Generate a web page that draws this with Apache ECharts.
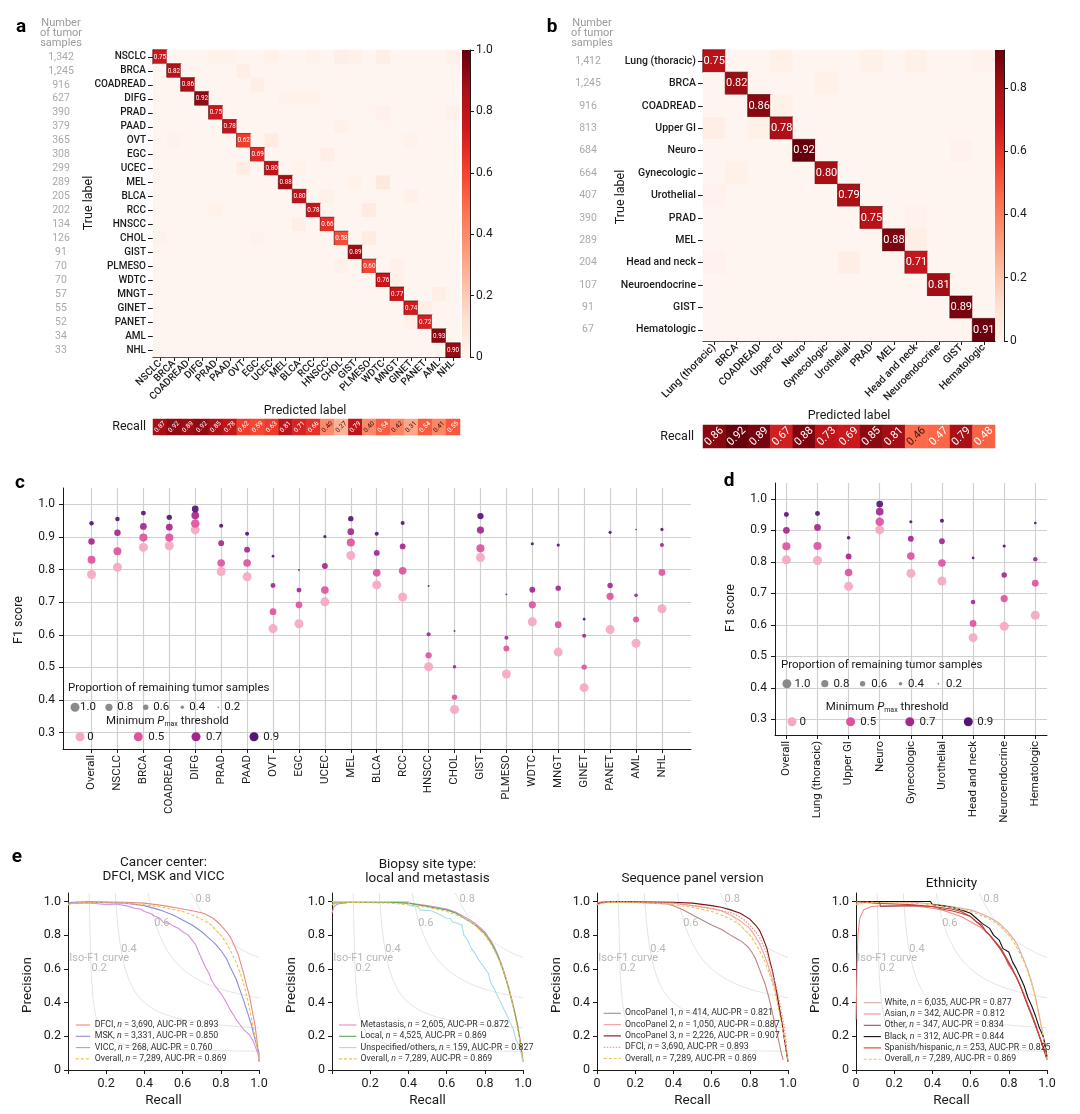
<!DOCTYPE html>
<html>
<head>
<meta charset="utf-8">
<script src="https://cdn.jsdelivr.net/npm/echarts@6.0.0/dist/echarts.min.js"></script>
<style>
html,body{margin:0;padding:0;background:#ffffff;}
#chart{width:1080px;height:1114px;}
</style>
</head>
<body>
<div id="chart"></div>
<script>
// ================= DATA =================
// ---- Panel a ----
const aClasses = ['NSCLC','BRCA','COADREAD','DIFG','PRAD','PAAD','OVT','EGC','UCEC','MEL','BLCA','RCC','HNSCC','CHOL','GIST','PLMESO','WDTC','MNGT','GINET','PANET','AML','NHL'];
const aCounts = ['1,342','1,245','916','627','390','379','365','308','299','289','205','202','134','126','91','70','70','57','55','52','34','33'];
const aDiagonal = [0.75,0.82,0.86,0.92,0.75,0.78,0.62,0.69,0.80,0.88,0.80,0.78,0.66,0.58,0.89,0.60,0.76,0.77,0.74,0.72,0.93,0.90];
// [row, col, value]
const aOffDiagonal = [
 [0,4,0.02],[0,5,0.02],[0,8,0.02],[0,11,0.02],[0,13,0.04],[0,14,0.03],[0,16,0.04],[0,21,0.03],
 [1,6,0.04],[2,7,0.04],[3,9,0.02],[3,10,0.02],[3,11,0.02],[4,16,0.03],[4,21,0.03],[5,13,0.03],
 [6,1,0.02],[6,8,0.06],[6,18,0.02],[7,12,0.04],[8,6,0.05],[8,10,0.02],[9,16,0.08],[9,14,0.02],
 [10,12,0.03],[10,18,0.03],[11,15,0.06],[12,10,0.04],[13,15,0.06],[13,0,0.02],[15,13,0.03],[15,17,0.03],
 [16,17,0.03],[17,20,0.04],[18,19,0.04],[19,18,0.03],[11,4,0.02],[13,7,0.02]
];
const aRecall = [0.87,0.92,0.89,0.92,0.85,0.78,0.62,0.59,0.63,0.81,0.71,0.66,0.40,0.27,0.79,0.40,0.54,0.42,0.31,0.54,0.41,0.55];
const aColorTicks = [0,0.2,0.4,0.6,0.8,1.0];

// ---- Panel b ----
const bClasses = ['Lung (thoracic)','BRCA','COADREAD','Upper GI','Neuro','Gynecologic','Urothelial','PRAD','MEL','Head and neck','Neuroendocrine','GIST','Hematologic'];
const bCounts = ['1,412','1,245','916','813','684','664','407','390','289','204','107','91','67'];
const bDiagonal = [0.75,0.82,0.86,0.78,0.92,0.80,0.79,0.75,0.88,0.71,0.81,0.89,0.91];
const bOffDiagonal = [[0,3,0.03],[0,7,0.03],[0,9,0.03],[0,12,0.02],[1,5,0.03],[2,3,0.03],[3,0,0.04],[3,2,0.03],[4,11,0.02],[5,1,0.03],[8,9,0.04],[9,6,0.04],[9,0,0.02],[6,0,0.02],[7,9,0.02]];
const bRecall = [0.86,0.92,0.89,0.67,0.88,0.73,0.69,0.85,0.81,0.46,0.47,0.79,0.48];
const bColorMax = 0.92;
const bColorTicks = [0,0.2,0.4,0.6,0.8];

// ---- Panel c ----
const cCategories = ['Overall','NSCLC','BRCA','COADREAD','DIFG','PRAD','PAAD','OVT','EGC','UCEC','MEL','BLCA','RCC','HNSCC','CHOL','GIST','PLMESO','WDTC','MNGT','GINET','PANET','AML','NHL'];
const cF1_t0  = [0.785,0.807,0.868,0.873,0.922,0.794,0.778,0.619,0.634,0.701,0.843,0.753,0.716,0.502,0.371,0.837,0.480,0.640,0.547,0.438,0.616,0.574,0.680];
const cF1_t05 = [0.830,0.856,0.898,0.898,0.941,0.820,0.820,0.671,0.692,0.737,0.883,0.790,0.796,0.537,0.409,0.865,0.558,0.692,0.631,0.501,0.718,0.647,0.791];
const cF1_t07 = [0.886,0.913,0.932,0.930,0.966,0.881,0.861,0.751,0.737,0.811,0.916,0.851,0.871,0.602,0.502,0.921,0.591,0.738,0.743,0.597,0.751,0.721,0.875];
const cF1_t09 = [0.942,0.955,0.973,0.960,0.986,0.934,0.910,0.841,0.799,0.901,0.956,0.910,0.943,0.750,0.612,0.964,0.724,0.879,0.875,0.648,0.914,0.923,0.923];
const cProp_t0  = [1,1,1,1,1,1,1,1,1,1,1,1,1,1,1,1,1,1,1,1,1,1,1];
const cProp_t05 = [0.88,0.88,0.90,0.90,0.95,0.85,0.85,0.75,0.75,0.85,0.90,0.85,0.85,0.70,0.60,0.90,0.65,0.80,0.75,0.60,0.80,0.65,0.75];
const cProp_t07 = [0.72,0.72,0.75,0.75,0.85,0.65,0.65,0.55,0.55,0.65,0.75,0.65,0.65,0.45,0.40,0.80,0.45,0.65,0.60,0.45,0.60,0.40,0.45];
const cProp_t09 = [0.50,0.50,0.55,0.60,0.75,0.45,0.45,0.30,0.20,0.35,0.60,0.45,0.45,0.20,0.20,0.70,0.20,0.35,0.35,0.30,0.35,0.15,0.35];

// ---- Panel d ----
const dCategories = ['Overall','Lung (thoracic)','Upper GI','Neuro','Gynecologic','Urothelial','Head and neck','Neuroendocrine','Hematologic'];
const dF1_t0  = [0.806,0.804,0.722,0.901,0.763,0.739,0.559,0.595,0.630];
const dF1_t05 = [0.849,0.850,0.766,0.927,0.818,0.796,0.604,0.683,0.732];
const dF1_t07 = [0.900,0.909,0.817,0.959,0.873,0.865,0.672,0.758,0.808];
const dF1_t09 = [0.950,0.953,0.876,0.983,0.927,0.930,0.812,0.850,0.923];
const dProp_t0  = [1,1,1,1,1,1,1,1,1];
const dProp_t05 = [0.90,0.90,0.85,0.95,0.85,0.85,0.75,0.80,0.75];
const dProp_t07 = [0.75,0.75,0.65,0.85,0.65,0.65,0.50,0.60,0.50];
const dProp_t09 = [0.55,0.55,0.40,0.75,0.35,0.45,0.30,0.35,0.30];

const f1YTicks = [0.3,0.4,0.5,0.6,0.7,0.8,0.9,1.0];
const sizeLegendProps = [1.0,0.8,0.6,0.4,0.2];
const thresholdLabels = ['0','0.5','0.7','0.9'];

// ---- Panel e (recall, precision) ----
const prOverall = [[0,0.98],[0.05,0.995],[0.3,0.99],[0.4,0.98],[0.5,0.965],[0.6,0.94],[0.65,0.92],[0.7,0.895],[0.75,0.86],[0.8,0.8],[0.83,0.75],[0.85,0.71],[0.88,0.64],[0.9,0.58],[0.92,0.51],[0.94,0.42],[0.96,0.31],[0.98,0.2],[0.99,0.13],[1.0,0.06]];
const prDFCI = [[0,0.98],[0.02,0.995],[0.1,1.0],[0.3,0.995],[0.4,0.99],[0.5,0.975],[0.58,0.96],[0.65,0.945],[0.71,0.93],[0.76,0.9],[0.8,0.86],[0.83,0.82],[0.85,0.79],[0.87,0.74],[0.89,0.69],[0.905,0.63],[0.92,0.57],[0.935,0.5],[0.95,0.44],[0.965,0.35],[0.98,0.26],[0.99,0.17],[0.996,0.1],[1.0,0.05]];
const prMSK = [[0,0.99],[0.1,0.995],[0.3,0.99],[0.4,0.975],[0.48,0.95],[0.55,0.92],[0.6,0.89],[0.65,0.86],[0.7,0.82],[0.73,0.79],[0.77,0.75],[0.8,0.71],[0.83,0.66],[0.85,0.61],[0.88,0.54],[0.9,0.475],[0.92,0.41],[0.94,0.34],[0.96,0.27],[0.97,0.22],[0.985,0.16],[1.0,0.1],[1.0,0.05]];
const prVICC = [[0.02,0.99],[0.12,0.99],[0.17,0.985],[0.2,0.98],[0.25,0.985],[0.3,0.975],[0.35,0.96],[0.38,0.955],[0.4,0.94],[0.43,0.93],[0.45,0.915],[0.48,0.9],[0.5,0.875],[0.53,0.87],[0.55,0.855],[0.58,0.84],[0.6,0.82],[0.63,0.8],[0.65,0.77],[0.67,0.74],[0.68,0.71],[0.7,0.66],[0.72,0.61],[0.74,0.57],[0.75,0.535],[0.77,0.5],[0.8,0.455],[0.82,0.42],[0.85,0.355],[0.87,0.32],[0.88,0.3],[0.9,0.27],[0.92,0.24],[0.95,0.21],[0.97,0.17],[0.98,0.14],[1.0,0.08]];
const prMetastasis = [[0,0.93],[0.01,0.97],[0.03,0.985],[0.1,0.995],[0.3,0.995],[0.4,0.99],[0.5,0.975],[0.6,0.955],[0.65,0.935],[0.7,0.905],[0.75,0.87],[0.8,0.82],[0.83,0.77],[0.85,0.73],[0.87,0.68],[0.89,0.62],[0.91,0.55],[0.93,0.47],[0.95,0.38],[0.97,0.28],[0.985,0.18],[1.0,0.05]];
const prLocal = [[0,0.99],[0.1,0.995],[0.3,0.995],[0.4,0.99],[0.5,0.97],[0.6,0.95],[0.65,0.93],[0.7,0.895],[0.75,0.86],[0.8,0.81],[0.83,0.76],[0.85,0.72],[0.87,0.67],[0.89,0.61],[0.91,0.54],[0.93,0.46],[0.95,0.37],[0.97,0.27],[0.985,0.17],[1.0,0.05]];
const prUnspecified = [[0,1.0],[0.4,1.0],[0.405,0.975],[0.45,0.97],[0.46,0.95],[0.52,0.945],[0.55,0.93],[0.6,0.9],[0.62,0.9],[0.63,0.88],[0.68,0.86],[0.69,0.8],[0.71,0.77],[0.73,0.72],[0.75,0.69],[0.77,0.65],[0.79,0.62],[0.82,0.57],[0.83,0.52],[0.85,0.48],[0.86,0.455],[0.88,0.41],[0.9,0.36],[0.91,0.34],[0.93,0.29],[0.95,0.24],[0.96,0.19],[0.98,0.14],[0.99,0.1],[1.0,0.05]];
const prOncoPanel1 = [[0,0.99],[0.1,1.0],[0.3,0.99],[0.37,0.985],[0.4,0.975],[0.45,0.95],[0.5,0.92],[0.55,0.89],[0.6,0.86],[0.65,0.835],[0.7,0.8],[0.73,0.78],[0.76,0.76],[0.79,0.73],[0.81,0.7],[0.83,0.66],[0.85,0.6],[0.86,0.57],[0.88,0.51],[0.89,0.47],[0.9,0.43],[0.91,0.38],[0.92,0.33],[0.935,0.26],[0.95,0.18],[0.965,0.1],[0.975,0.06]];
const prOncoPanel2 = [[0,0.99],[0.1,1.0],[0.4,0.99],[0.5,0.975],[0.6,0.96],[0.65,0.945],[0.7,0.92],[0.75,0.885],[0.8,0.84],[0.83,0.79],[0.85,0.75],[0.87,0.7],[0.89,0.64],[0.91,0.57],[0.93,0.49],[0.95,0.4],[0.965,0.3],[0.98,0.2],[0.99,0.12],[1.0,0.05]];
const prOncoPanel3 = [[0,0.98],[0.02,0.995],[0.1,1.0],[0.4,0.995],[0.5,0.99],[0.6,0.975],[0.65,0.965],[0.7,0.95],[0.75,0.93],[0.8,0.895],[0.83,0.86],[0.85,0.83],[0.87,0.78],[0.89,0.72],[0.9,0.67],[0.92,0.58],[0.94,0.47],[0.95,0.4],[0.97,0.27],[0.98,0.19],[0.99,0.12],[1.0,0.05]];
const prWhite = [[0,0.99],[0.1,1.0],[0.3,0.995],[0.4,0.985],[0.5,0.97],[0.6,0.95],[0.65,0.93],[0.7,0.905],[0.75,0.87],[0.8,0.815],[0.83,0.77],[0.85,0.73],[0.88,0.65],[0.9,0.59],[0.92,0.52],[0.94,0.43],[0.96,0.32],[0.98,0.2],[0.99,0.13],[1.0,0.06]];
const prAsian = [[0,0.3],[0.005,0.6],[0.01,0.8],[0.02,0.9],[0.04,0.95],[0.08,0.97],[0.15,0.975],[0.3,0.975],[0.4,0.96],[0.45,0.95],[0.5,0.93],[0.55,0.91],[0.6,0.88],[0.63,0.86],[0.66,0.84],[0.7,0.8],[0.73,0.76],[0.76,0.71],[0.78,0.67],[0.8,0.62],[0.82,0.59],[0.84,0.55],[0.86,0.5],[0.88,0.45],[0.9,0.39],[0.92,0.33],[0.94,0.27],[0.96,0.2],[0.98,0.14],[1.0,0.06]];
const prOther = [[0,1.0],[0.12,1.0],[0.13,0.97],[0.3,0.975],[0.4,0.97],[0.5,0.955],[0.55,0.94],[0.6,0.91],[0.65,0.86],[0.7,0.8],[0.73,0.76],[0.76,0.72],[0.79,0.66],[0.82,0.6],[0.84,0.55],[0.86,0.5],[0.88,0.44],[0.9,0.38],[0.92,0.32],[0.94,0.26],[0.96,0.2],[0.98,0.14],[1.0,0.07]];
const prBlack = [[0,1.0],[0.39,1.0],[0.4,0.98],[0.45,0.975],[0.5,0.965],[0.55,0.95],[0.6,0.93],[0.63,0.9],[0.66,0.87],[0.7,0.84],[0.72,0.8],[0.75,0.77],[0.77,0.72],[0.8,0.7],[0.82,0.64],[0.84,0.6],[0.86,0.55],[0.88,0.5],[0.9,0.43],[0.92,0.38],[0.94,0.32],[0.96,0.25],[0.98,0.2],[0.99,0.15],[1.0,0.08]];
const prHispanic = [[0,1.0],[0.1,0.99],[0.3,0.98],[0.4,0.97],[0.45,0.955],[0.5,0.945],[0.55,0.93],[0.6,0.91],[0.63,0.88],[0.66,0.86],[0.68,0.82],[0.7,0.8],[0.72,0.77],[0.74,0.74],[0.76,0.71],[0.78,0.67],[0.8,0.63],[0.82,0.59],[0.84,0.55],[0.86,0.5],[0.88,0.44],[0.9,0.38],[0.92,0.33],[0.94,0.27],[0.96,0.2],[0.98,0.13],[1.0,0.06]];

const eTitles = ['Cancer center:\nDFCI, MSK and VICC','Biopsy site type:\nlocal and metastasis','Sequence panel version','Ethnicity'];
const eLegendNames = [
  ['DFCI','MSK','VICC','Overall'],
  ['Metastasis','Local','Unspecified/others','Overall'],
  ['OncoPanel 1','OncoPanel 2','OncoPanel 3','DFCI','Overall'],
  ['White','Asian','Other','Black','Spanish/hispanic','Overall']
];
const eLegendN = [
  ['3,690','3,331','268','7,289'],
  ['2,605','4,525','159','7,289'],
  ['414','1,050','2,226','3,690','7,289'],
  ['6,035','342','347','312','253','7,289']
];
const eLegendAUC = [
  ['0.893','0.850','0.760','0.869'],
  ['0.872','0.869','0.827','0.869'],
  ['0.821','0.887','0.907','0.893','0.869'],
  ['0.877','0.812','0.834','0.844','0.825','0.869']
];
const eCurves = [
  [prDFCI, prMSK, prVICC, prOverall],
  [prMetastasis, prLocal, prUnspecified, prOverall],
  [prOncoPanel1, prOncoPanel2, prOncoPanel3, prDFCI, prOverall],
  [prWhite, prAsian, prOther, prBlack, prHispanic, prOverall]
];
const eTicks = [0,0.2,0.4,0.6,0.8,1.0];
const isoF1Levels = [0.2,0.4,0.6,0.8];
const isoLabels = [['Iso-F1 curve',0.163,0.664],['0.2',0.163,0.606],['0.4',0.319,0.717],['0.6',0.491,0.872],['0.8',0.708,1.01]];

// ================= STYLE =================
const FONT = 'Roboto, "Noto Sans", "DejaVu Sans", sans-serif';
const INK = '#1a1a1a';
const REDS = ['#fff5f0','#fee0d2','#fcbba1','#fc9272','#fb6a4a','#ef3b2c','#cb181d','#a50f15','#67000d'];
const thrColors = ['#f5a7c4','#e0529e','#a6268f','#551672'];
const eStyles = [
  [{c:'#e98a80'},{c:'#8e8cd8'},{c:'#d68ed9'},{c:'#f0c24a',t:[3,2]}],
  [{c:'#e68ac2'},{c:'#5cab5c'},{c:'#a9dbeb'},{c:'#f0c24a',t:[3,2]}],
  [{c:'#b98585'},{c:'#f3a1a6'},{c:'#7a1414'},{c:'#e98a80',t:[1.5,1.5]},{c:'#f0c24a',t:[3,2]}],
  [{c:'#d9aaa8'},{c:'#f08a8a'},{c:'#9c4f4f'},{c:'#111111'},{c:'#d63a30'},{c:'#f0c24a',t:[3,2]}]
];

// ================= BUILD =================
function heatItems(diag, off) {
  const n = diag.length, m = {};
  off.forEach(function (d) { m[d[0] + '_' + d[1]] = d[2]; });
  const out = [];
  for (let r = 0; r < n; r++) for (let c = 0; c < n; c++) {
    if (r === c) {
      out.push({ value: [c, r, diag[r]], label: { show: true }, itemStyle: { borderColor: 'rgba(70,0,0,0.75)', borderWidth: 0.8 } });
    } else {
      out.push({ value: [c, r, m[r + '_' + c] || 0] });
    }
  }
  return out;
}
function recallItems(vals, vmax) {
  return vals.map(function (v, i) {
    return { value: [i, 0, v], label: { color: (v / vmax) < 0.505 ? '#3a1410' : '#ffffff' } };
  });
}
function gradient(stops) {
  return new echarts.graphic.LinearGradient(0, 1, 0, 0, stops.map(function (c, i) { return { offset: i / (stops.length - 1), color: c }; }));
}
const two = function (p) { return p.value[2].toFixed(2); };

const grids = [
  {left:153, top:50, width:307, height:307},   // 0 a heat
  {left:462, top:50, width:8, height:307},     // 1 a colorbar
  {left:153, top:419, width:307, height:16},   // 2 a recall
  {left:703, top:50, width:292, height:291},   // 3 b heat
  {left:995, top:50, width:9, height:291},     // 4 b colorbar
  {left:703, top:425, width:292, height:23},   // 5 b recall
  {left:63, top:488, width:628, height:261},   // 6 c
  {left:775, top:483, width:272, height:252},  // 7 d
  {left:68, top:893, width:191, height:177},   // 8 e1
  {left:332, top:893, width:191, height:177},  // 9 e2
  {left:597, top:893, width:191, height:177},  // 10 e3
  {left:856, top:893, width:191, height:177}   // 11 e4
].map(function (g) { return Object.assign({containLabel:false, outerBoundsMode:'none'}, g); });

const axLine = {show:true, onZero:false, lineStyle:{color:INK, width:1}};
const hidden = {show:false};
const labelBase = {color:INK, fontFamily:FONT};

function catX(gi, data, size, show) {
  return {type:'category', gridIndex:gi, data:data, show:show, position:'bottom',
    axisLine:axLine, axisTick:{show:true, alignWithLabel:true, length:4, lineStyle:{color:INK}},
    axisLabel:Object.assign({rotate:45, fontSize:size, margin:5, interval:0, fontWeight:500}, labelBase), splitLine:hidden};
}
function catY(gi, data, size) {
  return {type:'category', gridIndex:gi, data:data, inverse:true, position:'left',
    axisLine:axLine, axisTick:{show:true, alignWithLabel:true, length:5, lineStyle:{color:INK}},
    axisLabel:Object.assign({fontSize:size, margin:7, interval:0, fontWeight:500}, labelBase), splitLine:hidden};
}
function countY(gi, data, margin) {
  return {type:'category', gridIndex:gi, data:data, inverse:true, position:'left',
    axisLine:hidden, axisTick:hidden, splitLine:hidden,
    axisLabel:{fontSize:10.5, color:'#a9a9a9', fontFamily:FONT, margin:margin, align:'center', interval:0}};
}
function cbarY(gi, max, ticks) {
  return {type:'value', gridIndex:gi, position:'right', min:0, max:max,
    axisLine:axLine, axisTick:{show:true, length:4, customValues:ticks, lineStyle:{color:INK}},
    axisLabel:Object.assign({fontSize:12, margin:6, customValues:ticks, formatter:function (v) { return v === 0 ? '0' : v.toFixed(1); }}, labelBase),
    splitLine:hidden};
}
function f1X(gi, cats, min, max) {
  const idx = cats.map(function (_, i) { return i; });
  return {type:'value', gridIndex:gi, min:min, max:max,
    axisLine:axLine, axisTick:{show:true, length:4, customValues:idx, lineStyle:{color:INK}},
    axisLabel:Object.assign({rotate:90, fontSize:11.5, margin:6, customValues:idx, formatter:function (v) { return cats[Math.round(v)] || ''; }}, labelBase),
    splitLine:{show:true, lineStyle:{color:'#d0d0d0', width:1.2}}};
}
function f1Y(gi) {
  return {type:'value', gridIndex:gi, min:0.25, max:1.05,
    axisLine:axLine, axisTick:{show:true, length:4, customValues:f1YTicks, lineStyle:{color:INK}},
    axisLabel:Object.assign({fontSize:12, margin:8, customValues:f1YTicks, formatter:function (v) { return v.toFixed(1); }}, labelBase),
    splitLine:{show:true, lineStyle:{color:'#d0d0d0', width:1.2}}};
}
function eX(gi, showZero) {
  return {type:'value', gridIndex:gi, min:0, max:1, interval:0.2,
    axisLine:axLine, axisTick:{show:true, length:4, lineStyle:{color:INK}},
    axisLabel:Object.assign({fontSize:12.5, margin:7, formatter:function (v) { return v === 0 ? (showZero ? '0' : '') : v.toFixed(1); }}, labelBase),
    splitLine:hidden};
}
function eY(gi) {
  return {type:'value', gridIndex:gi, min:0, max:1.05,
    axisLine:axLine, axisTick:{show:true, length:4, customValues:eTicks, lineStyle:{color:INK}},
    axisLabel:Object.assign({fontSize:12.5, margin:7, customValues:eTicks, formatter:function (v) { return v === 0 ? '0' : v.toFixed(1); }}, labelBase),
    splitLine:hidden};
}

const xAxes = [
  catX(0, aClasses, 10, true),                           // 0
  {type:'category', gridIndex:1, data:['cb'], show:false},// 1
  {type:'category', gridIndex:2, data:aClasses, show:false}, // 2
  catX(3, bClasses, 10.5, true),                         // 3
  {type:'category', gridIndex:4, data:['cb'], show:false},// 4
  {type:'category', gridIndex:5, data:bClasses, show:false}, // 5
  f1X(6, cCategories, -1.1, 23.12),                      // 6
  f1X(7, dCategories, -0.366, 8.376),                    // 7
  eX(8, false), eX(9, false), eX(10, true), eX(11, true) // 8-11
];
const yAxes = [
  catY(0, aClasses, 10),                                 // 0
  countY(0, aCounts, 92),                                // 1
  cbarY(1, 1.0, aColorTicks),                            // 2
  {type:'category', gridIndex:2, data:['Recall'], show:false}, // 3
  catY(3, bClasses, 10.5),                               // 4
  countY(3, bCounts, 115),                               // 5
  cbarY(4, bColorMax, bColorTicks),                      // 6
  {type:'category', gridIndex:5, data:['Recall'], show:false}, // 7
  f1Y(6),                                                // 8
  f1Y(7),                                                // 9
  eY(8), eY(9), eY(10), eY(11)                           // 10-13
];

const series = [];
// 0 heat a
series.push({type:'heatmap', xAxisIndex:0, yAxisIndex:0, data:heatItems(aDiagonal, aOffDiagonal), silent:true,
  label:{show:false, color:'#fff', fontSize:6.3, fontFamily:FONT, formatter:two}, emphasis:{disabled:true}});
// 1 colorbar a
series.push({type:'bar', xAxisIndex:1, yAxisIndex:2, data:[1.0], barWidth:'100%', silent:true, itemStyle:{color:gradient(REDS)}});
// 2 recall a
series.push({type:'heatmap', xAxisIndex:2, yAxisIndex:3, data:recallItems(aRecall, 1.0), silent:true,
  label:{show:true, rotate:45, fontSize:6.5, fontFamily:FONT, formatter:two}, emphasis:{disabled:true}});
// 3 heat b
series.push({type:'heatmap', xAxisIndex:3, yAxisIndex:4, data:heatItems(bDiagonal, bOffDiagonal), silent:true,
  label:{show:false, color:'#fff', fontSize:11, fontFamily:FONT, formatter:two}, emphasis:{disabled:true}});
// 4 colorbar b
series.push({type:'bar', xAxisIndex:4, yAxisIndex:6, data:[bColorMax], barWidth:'100%', silent:true, itemStyle:{color:gradient(REDS)}});
// 5 recall b
series.push({type:'heatmap', xAxisIndex:5, yAxisIndex:7, data:recallItems(bRecall, bColorMax), silent:true,
  label:{show:true, rotate:45, fontSize:11, fontFamily:FONT, formatter:two}, emphasis:{disabled:true}});

// c and d scatter
function f1Series(xi, yi, f1s, props) {
  f1s.forEach(function (vals, k) {
    series.push({type:'scatter', xAxisIndex:xi, yAxisIndex:yi, silent:true, z:3 + k,
      data:vals.map(function (v, i) { return [i, v, props[k][i]]; }),
      symbolSize:function (d) { return Math.max(1.5, 9 * d[2]); },
      itemStyle:{color:thrColors[k], opacity:0.92}});
  });
}
f1Series(6, 8, [cF1_t0, cF1_t05, cF1_t07, cF1_t09], [cProp_t0, cProp_t05, cProp_t07, cProp_t09]);
f1Series(7, 9, [dF1_t0, dF1_t05, dF1_t07, dF1_t09], [dProp_t0, dProp_t05, dProp_t07, dProp_t09]);

// e
function isoCurve(f) {
  const r0 = 1.05 * f / (2.1 - f), pts = [];
  for (let k = 0; k <= 80; k++) { const r = r0 + (1 - r0) * k / 80; pts.push([r, f * r / (2 * r - f)]); }
  return pts;
}
for (let p = 0; p < 4; p++) {
  const xi = 8 + p, yi = 10 + p;
  isoF1Levels.forEach(function (f) {
    series.push({type:'line', xAxisIndex:xi, yAxisIndex:yi, data:isoCurve(f), symbol:'none', silent:true, z:1,
      lineStyle:{color:'#e4e4e4', width:1}});
  });
  series.push({type:'scatter', xAxisIndex:xi, yAxisIndex:yi, symbolSize:0, silent:true, z:2,
    data:isoLabels.map(function (d) { return {name:d[0], value:[d[1], d[2]]}; }),
    label:{show:true, position:'inside', formatter:function (q) { return q.name; }, fontFamily:FONT, color:'#a5a5a5',
      fontSize:11}});
  eCurves[p].forEach(function (curve, k) {
    const st = eStyles[p][k];
    series.push({type:'line', xAxisIndex:xi, yAxisIndex:yi, data:curve, symbol:'none', silent:true, z:5 + k,
      lineStyle:{color:st.c, width:1.1, type:st.t || 'solid'}});
  });
}

// ================= GRAPHIC TEXT =================
const G = [];
function T(x, y, text, o) {
  o = o || {};
  G.push({type:'text', x:x, y:y, rotation:o.rot || 0, silent:true, z:100,
    style:{text:text, fill:o.color || INK, fontSize:o.size || 12, fontFamily:FONT, fontWeight:o.weight || 'normal',
      align:o.align || 'left', verticalAlign:o.va || 'middle', lineHeight:o.lh, rich:o.rich}});
}
function dot(x, y, d, color) {
  G.push({type:'circle', x:x, y:y, shape:{cx:0, cy:0, r:d / 2}, silent:true, z:100, style:{fill:color}});
}
function seg(x1, x2, y, color, dash) {
  G.push({type:'line', silent:true, z:100, shape:{x1:x1, y1:y, x2:x2, y2:y}, style:{stroke:color, lineWidth:1.1, lineDash:dash || null}});
}
// panel letters
T(21, 27, 'a', {size:19, weight:'bold', align:'center', color:'#000'});
T(552, 27, 'b', {size:19, weight:'bold', align:'center', color:'#000'});
T(20, 483, 'c', {size:19, weight:'bold', align:'center', color:'#000'});
T(729, 481, 'd', {size:19, weight:'bold', align:'center', color:'#000'});
T(17, 857, 'e', {size:19, weight:'bold', align:'center', color:'#000'});
// a / b annotations
T(61, 33.3, 'Number\nof tumor\nsamples', {size:11, color:'#9a9a9a', align:'center', lh:10.4});
T(592, 33.3, 'Number\nof tumor\nsamples', {size:11, color:'#9a9a9a', align:'center', lh:10.4});
T(89, 203, 'True label', {size:12.5, align:'center', rot:Math.PI / 2});
T(621, 197, 'True label', {size:12.5, align:'center', rot:Math.PI / 2});
T(305, 411, 'Predicted label', {size:12.5, align:'center'});
T(849, 416, 'Predicted label', {size:12.5, align:'center'});
T(146, 427, 'Recall', {size:12.5, align:'right'});
T(694, 437, 'Recall', {size:12.5, align:'right'});
// c / d axis names
T(19, 620, 'F1 score', {size:12.5, align:'center', rot:Math.PI / 2});
T(731, 608, 'F1 score', {size:12.5, align:'center', rot:Math.PI / 2});
// c / d legends
const pmaxRich = {t:{fontSize:11.5, fontFamily:FONT, fill:INK}, p:{fontSize:11.5, fontStyle:'italic', fontFamily:FONT, fill:INK}, s:{fontSize:7, fontFamily:FONT, fill:INK, padding:[7, 0, 0, 0]}};
function f1Legend(px, py, sx, sy, slx, mx, my, cx, cy, clx) {
  T(px, py, 'Proportion of remaining tumor samples', {size:11.5});
  sizeLegendProps.forEach(function (p, i) {
    dot(sx[i], sy, Math.max(1.5, 9 * p), '#8a8a8a');
    T(slx[i], sy, p.toFixed(1), {size:11.5});
  });
  T(mx, my, '{t|Minimum }{p|P}{s|max}{t| threshold}', {rich:pmaxRich});
  thresholdLabels.forEach(function (l, i) {
    dot(cx[i], cy, 9, thrColors[i]);
    T(clx[i], cy, l, {size:11.5});
  });
}
f1Legend(68, 688, [75, 109, 145.7, 182.3, 218.3], 707.3, [80, 117.3, 153.3, 189.3, 224.3],
  106, 720.7, [80, 138.3, 196, 254], 736.7, [87.3, 148.3, 206, 263.3]);
f1Legend(781, 665, [786.9, 824.8, 862.6, 900.5, 938.4], 683.7, [794.5, 833.4, 871.2, 908, 946],
  825.8, 706.7, [792, 850.6, 909.8, 968.3], 721.7, [799.6, 860.2, 919.5, 977.3]);
// e titles and axis names
const eLeft = [68, 332, 597, 856];
const eTitleY = [869.5, 871.5, 879, 884];
for (let p = 0; p < 4; p++) {
  T(eLeft[p] + 95.5, eTitleY[p], eTitles[p], {size:13.5, align:'center', lh:13.5});
  T(eLeft[p] - 40.5, 985, 'Precision', {size:13.5, align:'center', rot:Math.PI / 2});
  T(eLeft[p] + 95.5, 1101, 'Recall', {size:13.5, align:'center'});
}
// e legends
const eLegX = [[75.8, 90.2, 94.7], [339, 356.4, 360.5], [603.7, 620.9, 625], [863.7, 880.9, 884.4]];
const eLegY0 = [1025, 1025, 1013.3, 1002.7];
const eLegDY = 11.3;
for (let p = 0; p < 4; p++) {
  eLegendNames[p].forEach(function (nm, k) {
    const y = eLegY0[p] + k * eLegDY;
    const st = eStyles[p][k];
    seg(eLegX[p][0], eLegX[p][1], y, st.c, st.t);
    T(eLegX[p][2], y, nm + ', {i|n} = ' + eLegendN[p][k] + ', AUC-PR = ' + eLegendAUC[p][k],
      {size:8.8, color:'#333', rich:{i:{fontStyle:'italic', fontSize:8.8, fontFamily:FONT, fill:'#333'}}});
  });
}

const option = {
  animation:false,
  backgroundColor:'#ffffff',
  textStyle:{fontFamily:FONT},
  grid:grids,
  xAxis:xAxes,
  yAxis:yAxes,
  visualMap:[
    {type:'continuous', show:false, min:0, max:1, dimension:2, seriesIndex:[0, 2], inRange:{color:REDS}},
    {type:'continuous', show:false, min:0, max:bColorMax, dimension:2, seriesIndex:[3, 5], inRange:{color:REDS}}
  ],
  series:series,
  graphic:G
};
const chart = echarts.init(document.getElementById('chart'), null, {renderer:'canvas', width:1080, height:1114});
chart.setOption(option);
</script>
</body>
</html>
